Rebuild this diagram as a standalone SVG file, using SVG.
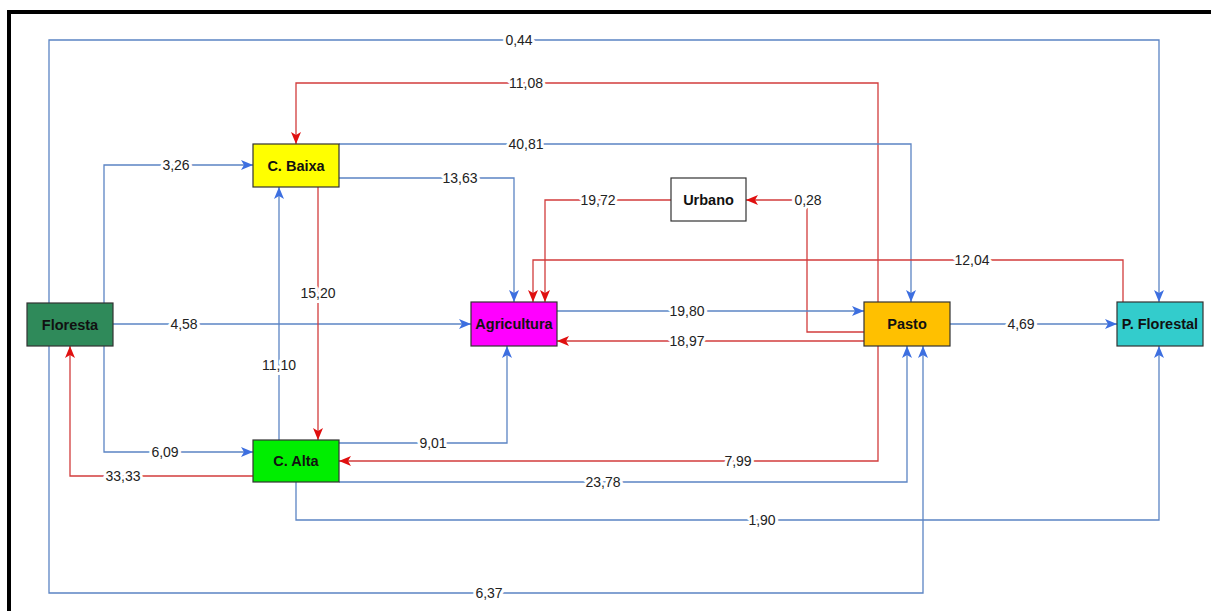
<svg xmlns="http://www.w3.org/2000/svg" width="1211" height="611" viewBox="0 0 1211 611">
<defs>
<style>
.b{fill:none;stroke:#5b84c4;stroke-width:1.3}
.r{fill:none;stroke:#d23c3c;stroke-width:1.3}
.b.a{marker-end:url(#ab)}
.r.a{marker-end:url(#ar)}
.lbl{font-family:"Liberation Sans",Arial,sans-serif;font-size:14px;fill:#222;text-anchor:middle;dominant-baseline:central;paint-order:stroke;stroke:#fff;stroke-width:6px;stroke-linejoin:round}
.node rect{stroke:#333;stroke-width:1.2}
.node text{font-family:"Liberation Sans",Arial,sans-serif;font-size:14.5px;font-weight:bold;fill:#111;text-anchor:middle;dominant-baseline:central}
</style>
<marker id="ab" markerUnits="userSpaceOnUse" markerWidth="12" markerHeight="10" viewBox="0 0 12 10" refX="12" refY="5" orient="auto"><path d="M0,0 L12,5 L0,10 L3,5 z" fill="#3d6fe0"/></marker>
<marker id="ar" markerUnits="userSpaceOnUse" markerWidth="12" markerHeight="10" viewBox="0 0 12 10" refX="12" refY="5" orient="auto"><path d="M0,0 L12,5 L0,10 L3,5 z" fill="#e01010"/></marker>
</defs>
<rect width="1211" height="611" fill="#fff"/>
<path d="M9,611 V12 H1211" fill="none" stroke="#000" stroke-width="4"/>
<g id="connectors">
<path class="b a" d="M49,303 V40 H1159 V302"/>
<path class="b a" d="M104,303 V165 H253"/>
<path class="r a" d="M878,302 V83 H296 V144"/>
<path class="b a" d="M339,144 H911 V302"/>
<path class="b a" d="M339,178 H514 V302"/>
<path class="r a" d="M671,200 H545 V302"/>
<path class="r a" d="M864,332 H807 V200 H746"/>
<path class="r a" d="M1123,302 V260 H533 V302"/>
<path class="b a" d="M557,311 H864"/>
<path class="r a" d="M864,341 H557"/>
<path class="b a" d="M113,324 H471"/>
<path class="b a" d="M950,324 H1117"/>
<path class="b a" d="M279,440 V187"/>
<path class="r a" d="M318,187 V440"/>
<path class="b a" d="M104,346 V452 H253"/>
<path class="r a" d="M253,476 H70 V346"/>
<path class="b a" d="M339,443 H507 V346"/>
<path class="r a" d="M878,346 V461 H339"/>
<path class="b a" d="M339,482 H907 V346"/>
<path class="b a" d="M296,482 V520 H1159 V346"/>
<path class="b a" d="M49,346 V593 H923 V346"/>
<text class="lbl" x="519" y="40">0,44</text>
<text class="lbl" x="176" y="165">3,26</text>
<text class="lbl" x="526" y="83">11,08</text>
<text class="lbl" x="526" y="144">40,81</text>
<text class="lbl" x="460" y="178">13,63</text>
<text class="lbl" x="598" y="200">19,72</text>
<text class="lbl" x="808" y="200">0,28</text>
<text class="lbl" x="972" y="260">12,04</text>
<text class="lbl" x="687" y="311">19,80</text>
<text class="lbl" x="687" y="341">18,97</text>
<text class="lbl" x="184" y="324">4,58</text>
<text class="lbl" x="1021" y="324">4,69</text>
<text class="lbl" x="279" y="365">11,10</text>
<text class="lbl" x="318" y="293">15,20</text>
<text class="lbl" x="165" y="452">6,09</text>
<text class="lbl" x="123" y="476">33,33</text>
<text class="lbl" x="433" y="443">9,01</text>
<text class="lbl" x="738" y="461">7,99</text>
<text class="lbl" x="603" y="482">23,78</text>
<text class="lbl" x="762" y="520">1,90</text>
<text class="lbl" x="489" y="593">6,37</text>
</g>
<g id="floresta" class="node"><rect x="27" y="303" width="86" height="43" fill="#2f8a5a"/><text x="70" y="324.5">Floresta</text></g>
<g id="cbaixa" class="node"><rect x="253" y="144" width="86" height="43" fill="#ffff00"/><text x="296" y="165.5">C. Baixa</text></g>
<g id="calta" class="node"><rect x="253" y="440" width="86" height="42" fill="#00ee00"/><text x="296" y="461">C. Alta</text></g>
<g id="agricultura" class="node"><rect x="471" y="302" width="86" height="44" fill="#ff00ff"/><text x="514" y="324">Agricultura</text></g>
<g id="urbano" class="node"><rect x="671" y="178" width="75" height="43" fill="#fff"/><text x="708.5" y="199.5">Urbano</text></g>
<g id="pasto" class="node"><rect x="864" y="302" width="86" height="44" fill="#ffc000"/><text x="907" y="324">Pasto</text></g>
<g id="pflorestal" class="node"><rect x="1117" y="302" width="86" height="44" fill="#33cccc"/><text x="1160" y="324">P. Florestal</text></g>
</svg>
